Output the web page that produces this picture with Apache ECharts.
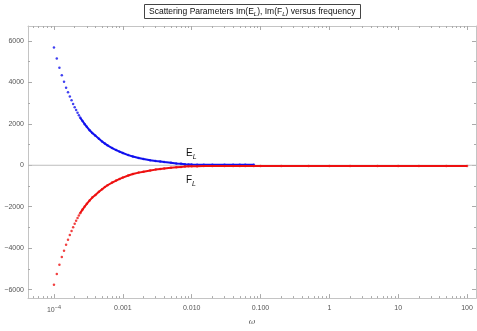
<!DOCTYPE html>
<html><head><meta charset="utf-8">
<script src="https://cdn.jsdelivr.net/npm/echarts@6/dist/echarts.min.js"></script>
<style>html,body{margin:0;padding:0;background:#fff}#c{width:477px;height:331px}</style>
</head><body><div id="c"></div>
<script>
// frequency samples (omega)
const omega = [
  1.0e-4, 1.1e-4, 1.2e-4, 1.3e-4, 1.4e-4, 1.5e-4, 1.6e-4, 1.7e-4, 1.8e-4, 1.9e-4,
  2.0e-4, 2.1e-4, 2.2e-4, 2.3e-4, 2.4e-4, 2.6e-4, 2.8e-4, 3.0e-4, 3.3e-4, 3.6e-4,
  4.0e-4, 4.5e-4, 5.0e-4, 5.5e-4, 6.0e-4, 7.0e-4, 8.0e-4, 9.0e-4, 1.0e-3, 1.2e-3,
  1.4e-3, 1.7e-3, 2.0e-3, 2.5e-3, 3.0e-3, 3.5e-3, 4.0e-3, 5.0e-3, 6.0e-3, 7.0e-3,
  8.0e-3, 9.0e-3, 0.010, 0.012, 0.015, 0.020, 0.030, 0.040, 0.050, 0.060,
  0.080, 0.10, 0.20, 0.50, 1, 2, 5, 10, 20, 50, 100
];
// Im(E_L)
const imE = [
  5683, 5149, 4710, 4346, 4030, 3746, 3529, 3321, 3132, 2962,
  2800, 2665, 2530, 2410, 2300, 2135, 1985, 1855, 1690, 1555,
  1430, 1275, 1150, 1045, 960, 830, 735, 655, 590, 490,
  420, 350, 305, 245, 205, 178, 152, 118, 90, 70,
  52, 40, 32, 26, 22, 20, 20, 20, 20, 20,
  20, null, null, null, null, null, null, null, null, null, null
];
// Im(F_L)
const imF = [
  -5760, -5250, -4800, -4430, -4120, -3830, -3590, -3370, -3170, -2990,
  -2820, -2680, -2545, -2420, -2310, -2140, -1990, -1860, -1695, -1560,
  -1435, -1280, -1155, -1050, -965, -835, -740, -660, -595, -495,
  -425, -355, -310, -250, -210, -182, -158, -124, -96, -78,
  -62, -52, -46, -42, -40, -40, -40, -40, -40, -40,
  -40, -40, -40, -40, -40, -40, -40, -40, -40, -40, -40
];
const xMajorExp = [-4, -3, -2, -1, 0, 1, 2];
const xTickLabels = ['{b|10}{s|−4}', '0.001', '0.010', '0.100', '1', '10', '100'];
const yMajor = [-6000, -4000, -2000, 0, 2000, 4000, 6000];
const yMinor = [-5000, -3000, -1000, 1000, 3000, 5000];

const XMIN = -4.377, XMAX = 2.13, YMIN = -6410, YMAX = 6720;
const xMinor = [];
for (let d = -5; d <= 2; d++) for (let k = 2; k <= 9; k++) {
  const v = d + Math.log10(k);
  if (v > XMIN && v < XMAX) xMinor.push(v);
}
const frame = '#c4c4c4';
const tickCol = '#aaaaaa';
const lbl = '#555';

const toPts = vals => omega.map((w, i) => [Math.log10(w), vals[i]]).filter(p => p[1] !== null);
const ePts = toPts(imE), fPts = toPts(imF);
const LINE_START = 14;

function xAx(pos, vals, len, showLine, labels) {
  return {
    type: 'value', position: pos, min: XMIN, max: XMAX, gridIndex: 0,
    axisLine: { show: showLine, onZero: false, lineStyle: { color: frame, width: 1 } },
    axisTick: { show: true, inside: true, length: len, customValues: vals, lineStyle: { color: tickCol } },
    axisLabel: labels ? {
      show: true, customValues: xMajorExp, fontSize: 7, color: lbl, margin: 6, fontFamily: 'Liberation Sans',
      formatter: v => xTickLabels[Math.round(v) + 4],
      rich: { b: { fontSize: 7, color: lbl, verticalAlign: 'top', lineHeight: 9, padding: [2, 0, 0, 0] },
              s: { fontSize: 5.5, color: lbl, verticalAlign: 'top', lineHeight: 5 } }
    } : { show: false },
    splitLine: { show: false },
    name: labels ? 'ω' : '', nameLocation: 'middle', nameGap: 18,
    nameTextStyle: { fontSize: 8, color: lbl, fontStyle: 'italic', fontFamily: 'DejaVu Serif' }
  };
}
function yAx(pos, vals, len, showLine, labels) {
  return {
    type: 'value', position: pos, min: YMIN, max: YMAX, gridIndex: 0,
    axisLine: { show: showLine, onZero: false, lineStyle: { color: frame, width: 1 } },
    axisTick: { show: true, inside: true, length: len, customValues: vals, lineStyle: { color: tickCol } },
    axisLabel: labels ? {
      show: true, customValues: yMajor, fontSize: 7, color: lbl, margin: 4, fontFamily: 'Liberation Sans',
      formatter: v => v < 0 ? '−' + (-v) : String(v)
    } : { show: false },
    splitLine: { show: false }
  };
}

const chart = echarts.init(document.getElementById('c'), null, { renderer: 'canvas' });
chart.setOption({
  animation: false,
  backgroundColor: '#fff',
  title: {
    text: 'Scattering Parameters Im(E{sub|L}), Im(F{sub|L}) versus frequency',
    left: 144, top: 4, padding: [3, 5, 2, 5],
    borderColor: '#444', borderWidth: 1,
    textStyle: {
      fontSize: 8.5, fontWeight: 'normal', color: '#111', fontFamily: 'Liberation Sans',
      rich: { sub: { fontSize: 6, fontStyle: 'italic', color: '#111', padding: [4, 0, 0, 0] } }
    }
  },
  grid: { left: 28, right: 1, top: 26, bottom: 27, containLabel: false },
  xAxis: [
    xAx('bottom', xMajorExp, 4, true, true),
    xAx('bottom', xMinor, 2, false, false),
    xAx('top', xMajorExp, 4, true, false),
    xAx('top', xMinor, 2, false, false)
  ],
  yAxis: [
    yAx('left', yMajor, 4, true, true),
    yAx('left', yMinor, 2, false, false),
    yAx('right', yMajor, 4, true, false),
    yAx('right', yMinor, 2, false, false)
  ],
  graphic: [
    { type: 'text', left: 186, top: 148, style: { text: '{m|E}{s|L}', rich: {
      m: { fontSize: 10, fill: '#111', fontFamily: 'Liberation Sans', verticalAlign: 'top', lineHeight: 11 },
      s: { fontSize: 7, fill: '#111', fontStyle: 'italic', fontFamily: 'Liberation Sans', verticalAlign: 'top', lineHeight: 7, padding: [6, 0, 0, 0] } } } },
    { type: 'text', left: 186, top: 175, style: { text: '{m|F}{s|L}', rich: {
      m: { fontSize: 10, fill: '#111', fontFamily: 'Liberation Sans', verticalAlign: 'top', lineHeight: 11 },
      s: { fontSize: 7, fill: '#111', fontStyle: 'italic', fontFamily: 'Liberation Sans', verticalAlign: 'top', lineHeight: 7, padding: [6, 0, 0, 0] } } } }
  ],
  series: [
    { type: 'line', data: [[XMIN, 0], [XMAX, 0]], symbol: 'none', silent: true,
      lineStyle: { color: '#bdbdbd', width: 1 }, z: 1 },
    { type: 'scatter', data: ePts, symbol: 'circle', symbolSize: 2.5, itemStyle: { color: '#1010ee' }, silent: true },
    { type: 'line', data: ePts.slice(LINE_START), symbol: 'none', lineStyle: { color: '#1010ee', width: 2 }, silent: true },
    { type: 'scatter', data: fPts, symbol: 'circle', symbolSize: 2.5, itemStyle: { color: '#ee1010' }, silent: true },
    { type: 'line', data: fPts.slice(LINE_START), symbol: 'none', lineStyle: { color: '#ee1010', width: 2 }, silent: true }
  ]
});
</script>
</body></html>
